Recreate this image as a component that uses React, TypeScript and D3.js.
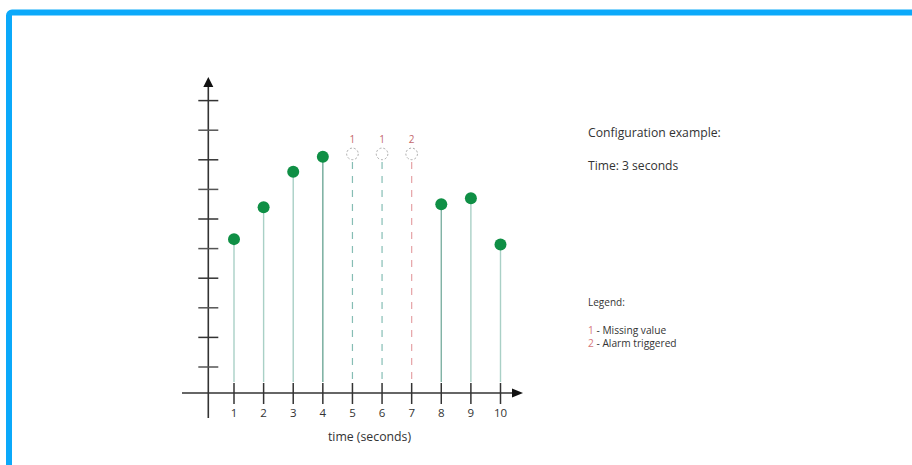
import React from "react";
import * as d3 from "d3";

const seconds = [1, 2, 3, 4, 5, 6, 7, 8, 9, 10];
const values: (number | null)[] = [5.32, 6.4, 7.6, 8.1, null, null, null, 6.5, 6.7, 5.14];
const missingLevel = 8.2;
const missingCodes: (string | null)[] = [null, null, null, null, "1", "1", "2", null, null, null];
const yTicks = [1, 2, 3, 4, 5, 6, 7, 8, 9, 10];
const stemColors = ["#a9d0c6", "#a9d0c6", "#a9d0c6", "#6fa898", null, null, null, "#7fb2a4", "#a9d0c6", "#a9d0c6"];
const dashColors: Record<string, string> = { "1": "#86bdb4", "2": "#e6a3a6" };
const legendItems = [
  { code: "1", text: " - Missing value" },
  { code: "2", text: " - Alarm triggered" },
];

const W = 912;
const H = 465;
const FONT = "'Open Sans', 'Noto Sans', sans-serif";

export default function App() {
  const x = d3.scaleLinear().domain([1, 10]).range([234, 500.5]);
  const y = d3.scaleLinear().domain([0, 10]).range([396.6, 100.6]);
  const axisX = 208.3;
  const axisY = 393;
  const stemBottom = 382;

  return (
    <svg
      width={W}
      height={H}
      style={{ position: "absolute", left: 0, top: 0, background: "#fff" }}
    >
      {/* frame */}
      <rect x={9} y={12.5} width={W + 20} height={H + 20} rx={3} fill="none" stroke="#0ba9fa" strokeWidth={6} />

      {/* stems */}
      {seconds.map((s, i) => {
        const v = values[i];
        if (v == null) {
          const code = missingCodes[i] as string;
          return (
            <g key={s}>
              <line
                x1={x(s)}
                x2={x(s)}
                y1={y(missingLevel) + 8}
                y2={stemBottom}
                stroke={dashColors[code]}
                strokeWidth={1.2}
                strokeDasharray="7,7"
              />
              <circle
                cx={x(s)}
                cy={y(missingLevel)}
                r={5.8}
                fill="none"
                stroke="#a8a8a8"
                strokeWidth={1}
                strokeDasharray="2,2"
              />
              <text
                x={x(s)}
                y={y(missingLevel) - 11}
                textAnchor="middle"
                fontFamily={FONT}
                fontSize={10}
                fill="#c4676b"
              >
                {code}
              </text>
            </g>
          );
        }
        return (
          <line
            key={s}
            x1={x(s)}
            x2={x(s)}
            y1={y(v)}
            y2={stemBottom}
            stroke={stemColors[i] as string}
            strokeWidth={1.4}
          />
        );
      })}

      {/* y axis */}
      <line x1={axisX} x2={axisX} y1={86} y2={418} stroke="#333" strokeWidth={1.6} />
      <path d={`M${axisX},77 L${axisX - 5},87 L${axisX + 5},87 Z`} fill="#111" />
      {yTicks.map((t) => (
        <line
          key={t}
          x1={axisX - 10}
          x2={axisX + 10}
          y1={y(t)}
          y2={y(t)}
          stroke={t % 2 === 0 ? "#333" : "#555"}
          strokeWidth={1.5}
        />
      ))}

      {/* x axis */}
      <line x1={182} x2={514} y1={axisY} y2={axisY} stroke="#333" strokeWidth={1.4} />
      <path d={`M523,${axisY} L512,${axisY - 4.5} L512,${axisY + 4.5} Z`} fill="#111" />
      {seconds.map((s) => (
        <g key={s}>
          <line x1={x(s)} x2={x(s)} y1={383} y2={404} stroke="#333" strokeWidth={1.5} />
          <text
            x={x(s)}
            y={417}
            textAnchor="middle"
            fontFamily={FONT}
            fontSize={11.5}
            fill="#333"
          >
            {s}
          </text>
        </g>
      ))}
      <text x={369.5} y={441} textAnchor="middle" fontFamily={FONT} fontSize={12.3} fill="#333">
        time (seconds)
      </text>

      {/* points */}
      {seconds.map((s, i) => {
        const v = values[i];
        if (v == null) return null;
        return <circle key={s} cx={x(s)} cy={y(v)} r={6} fill="#0f8f45" />;
      })}

      {/* annotations */}
      <text x={588} y={137} fontFamily={FONT} fontSize={12.2} fill="#333">
        Configuration example:
      </text>
      <text x={588} y={170} fontFamily={FONT} fontSize={12.1} fill="#333">
        Time: 3 seconds
      </text>
      <text x={588} y={306} fontFamily={FONT} fontSize={10} fill="#333">
        Legend:
      </text>
      {legendItems.map((it, i) => (
        <text key={it.code} x={588} y={334 + i * 12.5} fontFamily={FONT} fontSize={10.2} fill="#333">
          <tspan fill="#d6787c">{it.code}</tspan>
          {it.text}
        </text>
      ))}
    </svg>
  );
}
